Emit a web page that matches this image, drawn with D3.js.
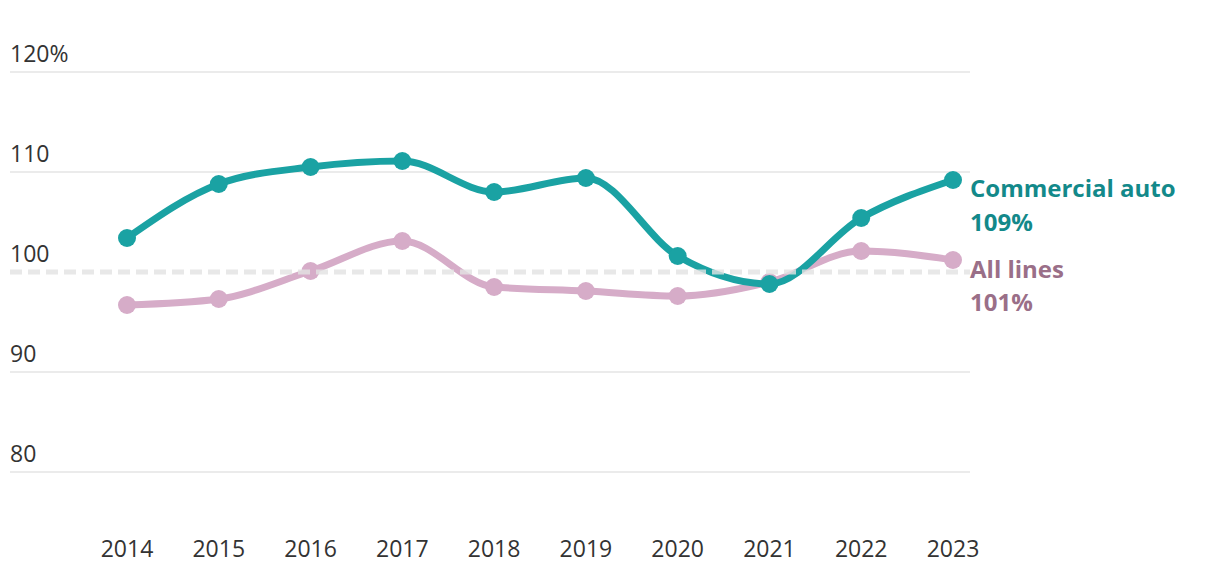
<!DOCTYPE html>
<html><head><meta charset="utf-8">
<script src="https://cdn.jsdelivr.net/npm/d3@7"></script>
<style>body{margin:0;background:#fff;}svg{display:block;font-family:"Open Sans",sans-serif;}</style>
</head><body><svg id="c" width="1220" height="578"></svg>
<script>
const years = [2014,2015,2016,2017,2018,2019,2020,2021,2022,2023];
const commercialAuto = [103.4,108.8,110.5,111.1,108.0,109.4,101.6,98.8,105.4,109.2];
const allLines = [96.7,97.3,100.1,103.1,98.5,98.1,97.6,99.0,102.1,101.2];
const yTicks = [80,90,100,110,120];
const yTickLabels = ["80","90","100","110","120%"];

const svg = d3.select("#c");
const x = d3.scalePoint().domain(years).range([127,953]);
const y = d3.scaleLinear().domain([80,120]).range([472,72]);

// gridlines
svg.append("g").selectAll("line").data(yTicks.filter(d=>d!==100)).join("line")
  .attr("x1",10).attr("x2",970).attr("y1",d=>y(d)).attr("y2",d=>y(d))
  .attr("stroke","#ebebeb").attr("stroke-width",2);
svg.append("g").selectAll("text").data(yTicks).join("text")
  .attr("x",10).attr("y",d=>y(d)-10).attr("font-size",23).attr("fill","#333")
  .text((d,i)=>yTickLabels[i]);

// x axis labels
svg.append("g").selectAll("text").data(years).join("text")
  .attr("x",d=>x(d)).attr("y",557).attr("text-anchor","middle")
  .attr("font-size",23).attr("fill","#333").text(d=>d);

const line = d3.line().x((d,i)=>x(years[i])).y(d=>y(d)).curve(d3.curveMonotoneX);
const series = [
  {vals: allLines, color:"#d6acc8"},
  {vals: commercialAuto, color:"#1aa2a3"}
];
series.forEach(s=>{
  svg.append("path").attr("d",line(s.vals)).attr("fill","none")
    .attr("stroke",s.color).attr("stroke-width",7).attr("stroke-linecap","round");
  svg.append("g").selectAll("circle").data(s.vals).join("circle")
    .attr("cx",(d,i)=>x(years[i])).attr("cy",d=>y(d)).attr("r",9).attr("fill",s.color);
});

// reference line at 100
svg.append("line").attr("x1",10).attr("x2",970).attr("y1",y(100)).attr("y2",y(100))
  .attr("stroke","#e3e3e3").attr("stroke-width",5).attr("stroke-dasharray","12,6").attr("opacity",0.8);

// labels
const labels = [
  {t:"Commercial auto", y:197, c:"#13898a"},
  {t:"109%", y:231, c:"#13898a"},
  {t:"All lines", y:278, c:"#9a6f88"},
  {t:"101%", y:311, c:"#9a6f88"}
];
svg.append("g").selectAll("text").data(labels).join("text")
  .attr("x",970).attr("y",d=>d.y).attr("font-size",24).attr("font-weight",700)
  .attr("fill",d=>d.c).text(d=>d.t);
</script></body></html>
